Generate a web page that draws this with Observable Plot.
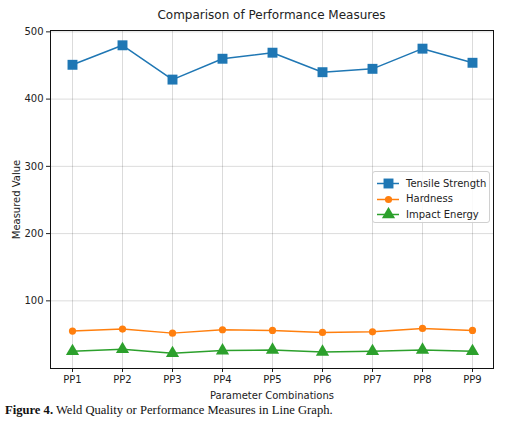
<!DOCTYPE html>
<html>
<head>
<meta charset="utf-8">
<script src="https://cdn.jsdelivr.net/npm/d3@7"></script>
<script src="https://cdn.jsdelivr.net/npm/@observablehq/plot@0.6"></script>
<style>
  body { margin:0; background:white; }
  #wrap { position:relative; width:515px; height:430px; background:white; font-family:"DejaVu Sans", sans-serif; }
  #title { position:absolute; top:8px; left:50px; width:443px; text-align:center; font-size:12px; color:#222; }
  #chart { position:absolute; top:0; left:0; }
  #legend { position:absolute; left:372px; top:171px; width:116px; height:50px; border:1px solid #d0d0d0; border-radius:3px; background:rgba(255,255,255,0.85); font-size:10px; color:#222; }
  .row { position:absolute; left:4px; height:14px; display:flex; align-items:center; }
  .row span { margin-left:7px; }
  #caption { position:absolute; left:5px; top:403px; font-family:"Liberation Serif", "Times New Roman", serif; font-size:12.6px; color:#111; }
</style>
</head>
<body>
<div id="wrap">
  <div id="chart"></div>
  <div id="title">Comparison of Performance Measures</div>
  <div id="legend"></div>
  <div id="caption"><b>Figure 4.</b> Weld Quality or Performance Measures in Line Graph.</div>
</div>
<script>
const categories = ["PP1","PP2","PP3","PP4","PP5","PP6","PP7","PP8","PP9"];
const tensileStrength = [451, 480, 429, 460, 469, 440, 445, 475, 454];
const hardness = [55, 58, 52, 57, 56, 53, 54, 59, 56];
const impactEnergy = [25, 28, 22, 26, 27, 24, 25, 27, 25];
const seriesNames = ["Tensile Strength", "Hardness", "Impact Energy"];
const seriesColors = ["#1f77b4", "#ff7f0e", "#2ca02c"];
const seriesSymbols = ["square", "circle", "triangle"];
const seriesR = [5.6, 3.6, 4.9];
const yTicks = [100, 200, 300, 400, 500];

const allValues = [tensileStrength, hardness, impactEnergy];
const rows = [];
seriesNames.forEach((s, i) => categories.forEach((c, j) => rows.push({series: s, cat: c, value: allValues[i][j]})));

const marks = [
  Plot.gridX(categories, {stroke: "#000", strokeOpacity: 0.14}),
  Plot.gridY(yTicks, {stroke: "#000", strokeOpacity: 0.14}),
];
seriesNames.forEach((s, i) => {
  const d = rows.filter(r => r.series === s);
  marks.push(Plot.line(d, {x: "cat", y: "value", stroke: seriesColors[i], strokeWidth: 1.5}));
  marks.push(Plot.dot(d, {x: "cat", y: "value", fill: seriesColors[i], symbol: seriesSymbols[i], r: seriesR[i]}));
});
marks.push(Plot.axisX({tickSize: 4, tickPadding: 3, label: "Parameter Combinations", labelAnchor: "center", labelArrow: "none", labelOffset: 30}));
marks.push(Plot.axisY(yTicks, {tickSize: 4, tickPadding: 3, label: "Measured Value", labelAnchor: "center", labelArrow: "none", labelOffset: 38}));
marks.push(Plot.frame({stroke: "#111", strokeWidth: 1}));

const chart = Plot.plot({
  width: 515, height: 400,
  marginLeft: 50, marginRight: 22, marginTop: 30, marginBottom: 32,
  style: {fontFamily: "DejaVu Sans", fontSize: "10px", color: "#222", background: "white"},
  x: {type: "point", domain: categories, padding: 0.4},
  y: {domain: [-0.6, 502]},
  marks
});
document.getElementById("chart").appendChild(chart);

const leg = document.getElementById("legend");
seriesNames.forEach((s, i) => {
  const row = document.createElement("div");
  row.className = "row";
  row.style.top = (4 + i * 15.5) + "px";
  const sym = Plot.plot({
    width: 22, height: 14, margin: 0,
    x: {domain: [0, 1]}, y: {domain: [0, 1]},
    axis: null,
    marks: [
      Plot.ruleY([0.5], {x1: 0, x2: 1, stroke: seriesColors[i], strokeWidth: 1.5}),
      Plot.dot([[0.5, 0.5]], {fill: seriesColors[i], symbol: seriesSymbols[i], r: seriesR[i]})
    ]
  });
  row.appendChild(sym);
  const t = document.createElement("span");
  t.textContent = s;
  row.appendChild(t);
  leg.appendChild(row);
});
</script>
</body>
</html>
